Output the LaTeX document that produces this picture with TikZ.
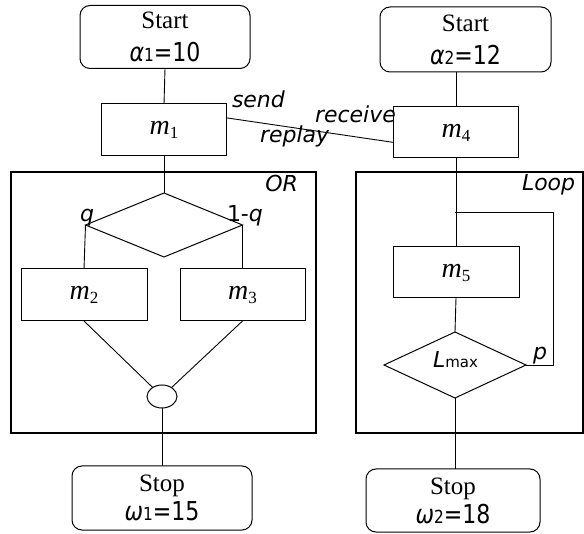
\documentclass[tikz,border=0pt]{standalone}
\usepackage{fontspec}
\setmainfont{Liberation Serif}
\newfontfamily\lblfont{DejaVu Sans}
\newfontfamily\valfont[FakeStretch=0.85]{DejaVu Sans}
\usetikzlibrary{shapes.geometric}

% module name m_i and the start/stop values
\newcommand{\procname}[1]{{\fontsize{28}{30}\selectfont\itshape m}\raisebox{-4pt}{\fontsize{17}{18}\selectfont #1}}
\newcommand{\initval}[3]{{\valfont\fontsize{26}{30}\selectfont\itshape #1}{\valfont\fontsize{18}{20}\selectfont #2}{\valfont\fontsize{26}{30}\selectfont =#3}}

\begin{document}
\begin{tikzpicture}[x=1pt,y=-1pt,
    every node/.style={inner sep=0pt, outer sep=0pt},
    proc/.style={draw, line width=1pt, minimum width=125pt, minimum height=52pt},
    term/.style={draw, line width=1pt, rounded corners=10pt, align=center, font=\fontsize{25}{33}\selectfont},
    cond/.style={draw, diamond, line width=1pt},
    link/.style={line width=0.9pt},
    group/.style={draw, line width=1.7pt},
    lbl/.style={font=\lblfont\itshape\fontsize{22}{24}\selectfont, anchor=base west}]

    \useasboundingbox (0,0) rectangle (584,534);

    % Frames for the OR block and the loop block
    \draw[group] (11,172) rectangle (316,433);
    \draw[group] (356,172) rectangle (583,433);

    % First process
    \node[term, minimum width=170pt, minimum height=63pt] (start1) at (165,37) {Start\\\initval{α}{1}{10}};
    \node[proc] (m1) at (164,130) {\procname{1}};
    \node[cond, minimum width=157pt, minimum height=64pt] (or) at (164,225) {};
    \node[proc, minimum width=126pt] (m2) at (84,295) {\procname{2}};
    \node[proc] (m3) at (242.5,295) {\procname{3}};
    \node[draw, ellipse, line width=1pt, minimum width=30pt, minimum height=23pt] (join) at (162,396.5) {};
    \node[term, minimum width=180pt, minimum height=64pt] (stop1) at (162,498) {Stop\\[-4pt]\initval{ω}{1}{15}};

    % Second process
    \node[term, minimum width=171pt, minimum height=65pt] (start2) at (465.5,39.5) {Start\\\initval{α}{2}{12}};
    \node[proc, minimum height=51pt] (m4) at (456,132.5) {\procname{4}};
    \node[proc, minimum width=126pt, minimum height=51pt] (m5) at (456,272.5) {\procname{5}};
    \node[cond, minimum width=142pt, minimum height=66pt] (lmax) at (455,365) {};
    \node[term, minimum width=174pt, minimum height=63pt] (stop2) at (453,500.5) {Stop\\[-4pt]\initval{ω}{2}{18}};
    \coordinate (fork) at (455,212);
    \coordinate (back) at (553,212);

    % Connectors
    \draw[link] (start1.south) -- (m1.north);
    \draw[link] (m1.south) -- (or.north);
    \draw[link] (or.west) -- (m2.north);
    \draw[link] (or.east) -- (m3.north);
    \draw[link] (m2.south) -- (join);
    \draw[link] (m3.south) -- (join);
    \draw[link] (join.south) -- (stop1.north);
    \draw[link] (m1.11) -- (m4.189);
    \draw[link] (m4.north) -- (m4.north |- start2.south);
    \draw[link] (m4.south) -- (m5.north);
    \draw[link] (m5.south) -- (lmax.north);
    \draw[link] (lmax.east) -| (back) -- (fork);
    \draw[link] (lmax.south) -- (lmax.south |- stop2.north);

    % Labels
    \node[lbl] (send) at (232,108) {send};
    \node[lbl] (recv) at (315,123) {receive};
    \node[lbl] (replay) at (260,143) {replay};
    \node[lbl, anchor=base east] (orlbl) at (298,192) {OR};
    \node[lbl] (looplbl) at (522,191) {Loop};
    \node[lbl] (qlbl) at (80,222) {q};
    \node[lbl] (notq) at (227,222) {{\upshape 1-}q};
    \node[lbl] (plbl) at (533,360) {p};
    \node[anchor=base west, font=\lblfont\fontsize{22}{24}\selectfont] (lmaxlbl) at (433,368) {{\itshape L}{\fontsize{15}{16}\selectfont max}};
\end{tikzpicture}
\end{document}
